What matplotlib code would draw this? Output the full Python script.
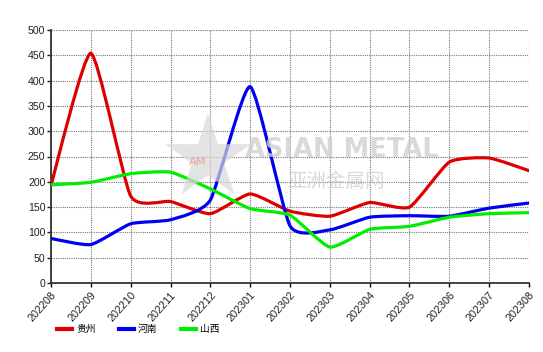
import matplotlib
matplotlib.use("Agg")
import matplotlib.pyplot as plt
import numpy as np
from matplotlib.path import Path
from matplotlib.patches import PathPatch, Polygon
from matplotlib.lines import Line2D

plt.rcParams['font.family'] = ['Noto Sans CJK SC', 'DejaVu Sans']

months = ["202208", "202209", "202210", "202211", "202212", "202301", "202302",
          "202303", "202304", "202305", "202306", "202307", "202308"]
guizhou = [193, 454, 172, 161, 137, 176, 142, 132, 159, 150, 239, 247, 222]
henan = [88, 76, 117, 125, 164, 388, 113, 105, 130, 133, 132, 148, 158]
shanxi = [194, 199, 216, 219, 186, 147, 134, 71, 106, 112, 130, 137, 139]
names = ["贵州", "河南", "山西"]
colors = ["#dd0000", "#0000ee", "#00ee00"]


def spline_path(xs, ys, k=0.09):
    xs = np.asarray(xs, float)
    ys = np.asarray(ys, float)
    verts = [(xs[0], ys[0])]
    codes = [Path.MOVETO]
    n = len(xs)
    for i in range(n - 1):
        p0 = (xs[max(i - 1, 0)], ys[max(i - 1, 0)])
        p1 = (xs[i], ys[i])
        p2 = (xs[i + 1], ys[i + 1])
        p3 = (xs[min(i + 2, n - 1)], ys[min(i + 2, n - 1)])
        c1 = (p1[0] + (p2[0] - p0[0]) * k, p1[1] + (p2[1] - p0[1]) * k)
        c2 = (p2[0] - (p3[0] - p1[0]) * k, p2[1] - (p3[1] - p1[1]) * k)
        verts += [c1, c2, p2]
        codes += [Path.CURVE4] * 3
    return Path(verts, codes)


fig = plt.figure(figsize=(5.43, 3.52), dpi=100)
ax = fig.add_axes([51 / 543, 1 - 283 / 352, 478 / 543, 253 / 352])

x = np.arange(len(months))
for ys, c in zip([guizhou, henan, shanxi], colors):
    ax.add_patch(PathPatch(spline_path(x, ys), facecolor='none', edgecolor=c,
                           lw=2.3, zorder=3, capstyle='round', joinstyle='round'))

ax.set_xlim(0, len(months) - 1)
ax.set_ylim(0, 500)
ax.set_yticks(np.arange(0, 501, 50))
ax.set_xticks(x)
ax.set_xticklabels(months, rotation=48, ha='right', rotation_mode='anchor',
                   fontsize=7.8, family='Liberation Sans', color='#222222')
ax.tick_params(axis='y', labelsize=7.6, length=3, width=1, colors='#222222', pad=1)
ax.tick_params(axis='x', length=3, width=1, pad=2)
for lab in ax.get_yticklabels():
    lab.set_family('Liberation Sans')

ax.grid(True, color='#777777', linestyle=(0, (1, 1)), lw=0.8)
ax.set_axisbelow(True)
for s in ['top', 'right']:
    ax.spines[s].set_visible(False)
for s in ['left', 'bottom']:
    ax.spines[s].set_color('#333333')
    ax.spines[s].set_linewidth(1.3)

# watermark
fig.text(245 / 543, 1 - 150 / 352, "ASIAN METAL", fontsize=18.5, fontweight='bold',
         color='#d0d0d0', alpha=0.8, ha='left', va='center', zorder=0,
         family='DejaVu Sans')
fig.text(287 / 543, 1 - 181 / 352, "亚洲金属网", fontsize=14, color='#d0d0d0', alpha=0.8,
         ha='left', va='center', zorder=0)
star_cx, star_cy, R, r = 208, 158, 45, 17
pts = []
for j in range(10):
    ang = np.pi / 2 + j * np.pi / 5
    rad = R if j % 2 == 0 else r
    pts.append(((star_cx + rad * np.cos(ang)) / 543, 1 - (star_cy - rad * np.sin(ang)) / 352))
fig.patches.append(Polygon(pts, closed=True, transform=fig.transFigure,
                           facecolor='#d8d8d8', edgecolor='none', alpha=0.7, zorder=0))
fig.text(198 / 543, 1 - 162 / 352, "AM", fontsize=8, color='#f0a0a0', ha='center',
         va='center', zorder=0, family='DejaVu Sans')

handles = [Line2D([0], [0], color=c, lw=3) for c in colors]
fig.legend(handles, names, loc='center left', bbox_to_anchor=(57 / 543, 1 - 329 / 352),
           ncol=3, frameon=False, fontsize=7, handlelength=1.55, handletextpad=0.4,
           columnspacing=2.4, borderpad=0, borderaxespad=0)

fig.savefig("out.png", dpi=100)
